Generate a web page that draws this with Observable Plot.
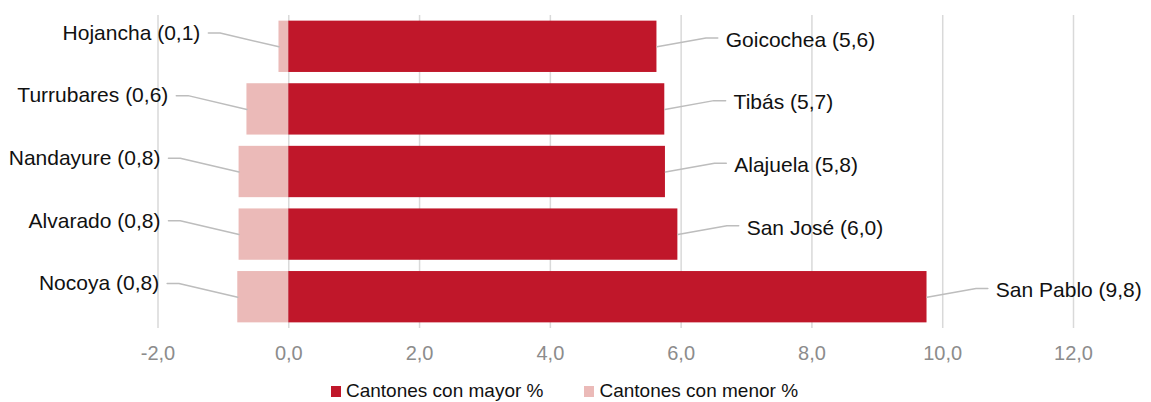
<!DOCTYPE html>
<html>
<head>
<meta charset="utf-8">
<script src="https://cdn.jsdelivr.net/npm/d3@7"></script>
<script src="https://cdn.jsdelivr.net/npm/@observablehq/plot@0.6"></script>
<style>
  html, body { margin: 0; padding: 0; background: #fff; }
  body { width: 1151px; height: 402px; overflow: hidden; font-family: "Liberation Sans", Arial, sans-serif; }
  #legend { display: flex; justify-content: center; align-items: center; gap: 41px; font-size: 19px; color: #111; height: 30px; margin-top: 4px; margin-left: -22px; }
  #legend .item { display: flex; align-items: center; gap: 5px; }
  #legend .sw { width: 10px; height: 11px; display: inline-block; }
</style>
</head>
<body>
<div id="chart"></div>
<div id="legend"></div>
<script>
// ---- data ----
const mayorCantones = ["Goicochea", "Tibás", "Alajuela", "San José", "San Pablo"];
const mayorValues = [5.63, 5.75, 5.76, 5.95, 9.76];
const mayorLabels = ["5,6", "5,7", "5,8", "6,0", "9,8"];

const menorCantones = ["Hojancha", "Turrubares", "Nandayure", "Alvarado", "Nocoya"];
const menorValues = [0.15, 0.64, 0.76, 0.76, 0.78];
const menorLabels = ["0,1", "0,6", "0,8", "0,8", "0,8"];

const xTicks = [-2, 0, 2, 4, 6, 8, 10, 12];
const seriesNames = ["Cantones con mayor %", "Cantones con menor %"];
const seriesColors = ["#c0172a", "#ebbab8"];

// ---- derived tables ----
const mayor = mayorCantones.map((c, i) => ({row: i, name: c, v: mayorValues[i], label: `${c} (${mayorLabels[i]})`}));
const menor = menorCantones.map((c, i) => ({row: i, name: c, v: -menorValues[i], label: `${c} (${menorLabels[i]})`}));

const half = 0.41;          // half bar thickness (row units)
const rOff = 0.75, rDy = 0.14, rH = 0.18;   // right leader geometry
const lOff = 0.9, lDy = 0.22, lH = 0.18;    // left leader geometry

const rightLeaders = mayor.flatMap(d => [
  {name: d.name, x: d.v, y: d.row},
  {name: d.name, x: d.v + rOff, y: d.row - rDy},
  {name: d.name, x: d.v + rOff + rH, y: d.row - rDy}
]);
const leftLeaders = menor.flatMap(d => [
  {name: d.name, x: d.v, y: d.row},
  {name: d.name, x: d.v - lOff, y: d.row - lDy},
  {name: d.name, x: d.v - lOff - lH, y: d.row - lDy}
]);

const fmt = d => d.toFixed(1).replace(".", ",");

const chart = Plot.plot({
  width: 1151,
  height: 372,
  marginTop: 15,
  marginBottom: 44,
  marginLeft: 157.5,
  marginRight: 78,
  style: {fontFamily: "Liberation Sans, Arial, sans-serif", fontSize: "20px", background: "#fff"},
  x: {domain: [-2, 12], ticks: xTicks, tickFormat: fmt, tickSize: 0, tickPadding: 17, label: null},
  y: {domain: [-0.5, 4.5], reverse: true, axis: null},
  marks: [
    Plot.gridX(xTicks, {stroke: "#d9d9d9", strokeOpacity: 1, strokeWidth: 1.5}),
    Plot.axisX({ticks: xTicks, tickFormat: fmt, tickSize: 0, tickPadding: 17, color: "#8c8c8c", fontSize: 20, label: null}),
    Plot.rectX(menor, {x1: 0, x2: "v", y1: d => d.row - half, y2: d => d.row + half, fill: seriesColors[1]}),
    Plot.rectX(mayor, {x1: 0, x2: "v", y1: d => d.row - half, y2: d => d.row + half, fill: seriesColors[0]}),
    Plot.line(rightLeaders, {x: "x", y: "y", z: "name", stroke: "#bdbdbd", strokeWidth: 1.5}),
    Plot.line(leftLeaders, {x: "x", y: "y", z: "name", stroke: "#bdbdbd", strokeWidth: 1.5}),
    Plot.text(mayor, {x: d => d.v + rOff + rH, y: d => d.row - rDy, text: "label", textAnchor: "start", dx: 8, dy: 2, fill: "#111", fontSize: 21}),
    Plot.text(menor, {x: d => d.v - lOff - lH, y: d => d.row - lDy, text: "label", textAnchor: "end", dx: -8, dy: 0, fill: "#111", fontSize: 21})
  ]
});
document.getElementById("chart").appendChild(chart);

const legend = document.getElementById("legend");
seriesNames.forEach((n, i) => {
  const item = document.createElement("span");
  item.className = "item";
  const sw = document.createElement("span");
  sw.className = "sw";
  sw.style.background = seriesColors[i];
  const t = document.createElement("span");
  t.textContent = n;
  item.appendChild(sw);
  item.appendChild(t);
  legend.appendChild(item);
});
</script>
</body>
</html>
